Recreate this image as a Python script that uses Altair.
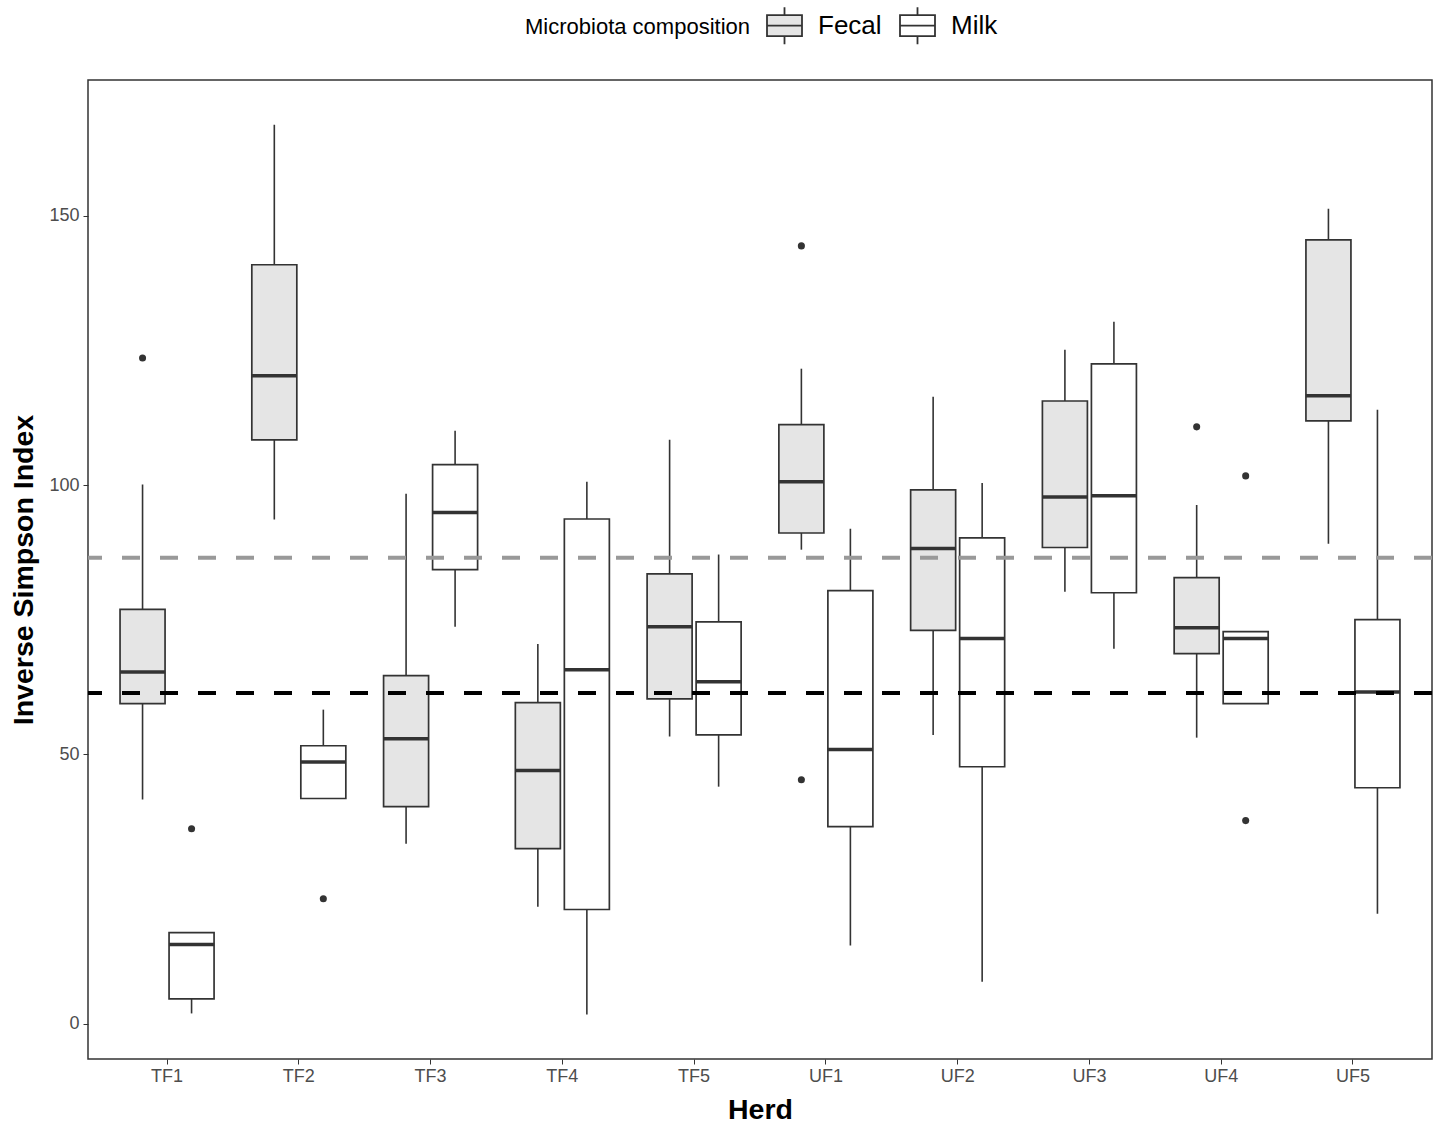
import altair as alt
import pandas as pd

herds = ["TF1", "TF2", "TF3", "TF4", "TF5", "UF1", "UF2", "UF3", "UF4", "UF5"]
compositions = ["Fecal", "Milk"]

fecal_wlo = [41.6, 93.6, 33.4, 21.7, 53.3, 88.0, 53.6, 80.2, 53.1, 89.1]
fecal_q1 = [59.4, 108.4, 40.3, 32.5, 60.3, 91.1, 73.0, 88.4, 68.7, 111.9]
fecal_med = [65.3, 120.3, 52.9, 47.0, 73.7, 100.6, 88.2, 97.8, 73.5, 116.6]
fecal_q3 = [76.9, 140.9, 64.6, 59.6, 83.5, 111.2, 99.1, 115.6, 82.8, 145.5]
fecal_whi = [100.1, 166.9, 98.4, 70.5, 108.4, 121.6, 116.4, 125.1, 96.3, 151.3]

milk_wlo = [1.9, 41.8, 73.7, 1.7, 44.0, 14.5, 7.8, 69.6, 59.4, 20.4]
milk_q1 = [4.6, 41.8, 84.3, 21.2, 53.6, 36.6, 47.7, 80.0, 59.4, 43.8]
milk_med = [14.7, 48.6, 94.9, 65.7, 63.5, 50.9, 71.5, 98.0, 71.5, 61.6]
milk_q3 = [16.9, 51.6, 103.8, 93.7, 74.6, 80.4, 90.2, 122.5, 72.8, 75.0]
milk_whi = [16.9, 58.3, 110.1, 100.6, 87.1, 91.9, 100.4, 130.3, 72.8, 114.0]

outlier_herd = ["TF1", "UF1", "UF1", "UF4", "TF1", "TF2", "UF4", "UF4"]
outlier_comp = ["Fecal", "Fecal", "Fecal", "Fecal", "Milk", "Milk", "Milk", "Milk"]
outlier_val = [123.6, 144.4, 45.3, 110.8, 36.2, 23.2, 101.7, 37.7]

fecal_mean = [86.5]
milk_mean = [61.4]

rows = []
for i, h in enumerate(herds):
    rows.append(dict(herd=h, comp="Fecal", wlo=fecal_wlo[i], q1=fecal_q1[i],
                     med=fecal_med[i], q3=fecal_q3[i], whi=fecal_whi[i]))
    rows.append(dict(herd=h, comp="Milk", wlo=milk_wlo[i], q1=milk_q1[i],
                     med=milk_med[i], q3=milk_q3[i], whi=milk_whi[i]))
box_df = pd.DataFrame(rows)
out_df = pd.DataFrame({"herd": outlier_herd, "comp": outlier_comp, "val": outlier_val})
fmean_df = pd.DataFrame({"mval": fecal_mean})
mmean_df = pd.DataFrame({"mval": milk_mean})

FONT = "Liberation Sans"
DARK = "#333333"

x_enc = alt.X("herd:N", sort=herds,
              scale=alt.Scale(paddingInner=0, paddingOuter=0.1),
              axis=alt.Axis(title="Herd", labelAngle=0, labelFontSize=18,
                            labelColor="#4D4D4D", titleFontSize=28.5,
                            titleFontWeight="bold", titleColor="black",
                            tickColor=DARK, tickSize=5, domain=False,
                            labelPadding=3, titlePadding=10, grid=False))
xo_enc = alt.XOffset("comp:N", sort=compositions,
                     scale=alt.Scale(paddingInner=0.0816, paddingOuter=0.385))
y_scale = alt.Scale(domain=[-6.56, 175.2], nice=False, zero=False)
y_axis = alt.Axis(title="Inverse Simpson Index", values=[0, 50, 100, 150],
                  labelFontSize=18, labelColor="#4D4D4D", titleFontSize=28.5,
                  titleFontWeight="bold", titleColor="black", tickColor=DARK,
                  tickSize=5, domain=False, grid=False, labelPadding=4,
                  titlePadding=10)

base = alt.Chart(box_df)

whiskers = base.mark_rule(color=DARK, strokeWidth=1.6).encode(
    x=x_enc, xOffset=xo_enc,
    y=alt.Y("wlo:Q", scale=y_scale, axis=y_axis),
    y2="whi:Q",
)

legend_path = ("M-1,-0.6L1,-0.6L1,0.6L-1,0.6Z M-1,0L1,0 "
               "M0,-0.6L0,-1.06 M0,0.6L0,1.06")

boxes = base.mark_bar(stroke=DARK, strokeWidth=1.7, opacity=1).encode(
    x=x_enc, xOffset=xo_enc,
    y=alt.Y("q1:Q", scale=y_scale, axis=y_axis),
    y2="q3:Q",
    fill=alt.Fill("comp:N", sort=compositions,
                  scale=alt.Scale(domain=compositions, range=["#E5E5E5", "#FFFFFF"]),
                  legend=alt.Legend(
                      title="Microbiota composition", orient="none",
                      direction="horizontal", titleOrient="left",
                      legendX=437, legendY=-73,
                      titleFontSize=22, titleFontWeight="normal",
                      titleColor="black", titleFont=FONT, titleLimit=600,
                      labelFontSize=26, labelColor="black", labelFont=FONT,
                      labelLimit=300,
                      symbolType=legend_path, symbolSize=1225,
                      symbolStrokeColor=DARK, symbolStrokeWidth=1.8,
                      symbolOpacity=1,
                      labelOffset=15, columnPadding=14, titlePadding=16,
                      titleBaseline="middle", labelBaseline="middle")),
)

medians = base.mark_tick(color=DARK, thickness=3.5, size=45, opacity=1).encode(
    x=x_enc, xOffset=xo_enc,
    y=alt.Y("med:Q", scale=y_scale, axis=y_axis),
)

outliers = alt.Chart(out_df).mark_circle(color=DARK, size=50, opacity=1).encode(
    x=x_enc, xOffset=xo_enc,
    y=alt.Y("val:Q", scale=y_scale, axis=y_axis),
)

fmean = alt.Chart(fmean_df).mark_rule(strokeDash=[18, 20], strokeWidth=4,
                                      color="#999999").encode(
    y=alt.Y("mval:Q", scale=y_scale, axis=y_axis),
)
mmean = alt.Chart(mmean_df).mark_rule(strokeDash=[18, 20], strokeWidth=4,
                                      color="#000000").encode(
    y=alt.Y("mval:Q", scale=y_scale, axis=y_axis),
)

chart = alt.layer(whiskers, boxes, medians, outliers, fmean, mmean).properties(
    width=1344, height=979,
    autosize=alt.AutoSizeParams(type="none"),
    padding={"left": 88, "top": 80, "right": 6, "bottom": 65},
    background="white",
    view=alt.ViewBackground(stroke=DARK, strokeWidth=1.5),
).configure_view(stroke=DARK, strokeWidth=1.5).configure(font=FONT)

chart.save("out.html", embed_options={"renderer": "svg", "actions": False})
